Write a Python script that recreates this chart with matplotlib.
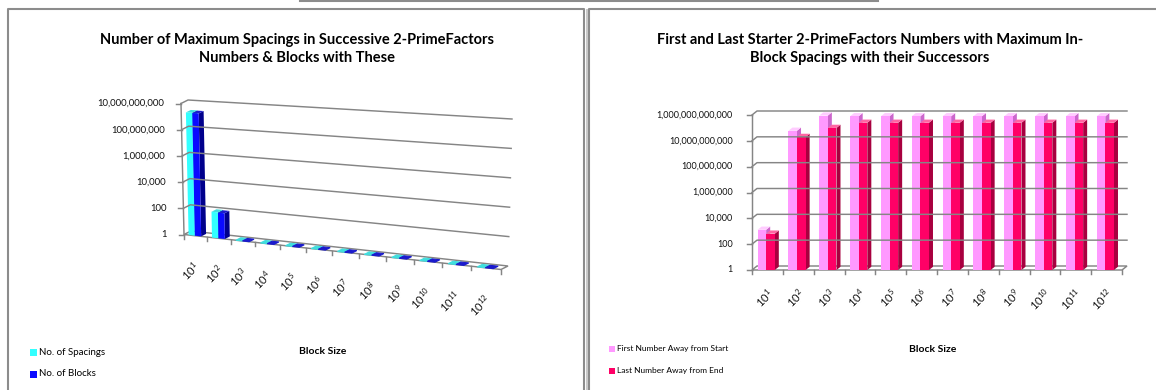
import numpy as np
import matplotlib.pyplot as plt
from matplotlib.patches import Polygon, Rectangle

plt.rcParams['font.family'] = ['Lato', 'DejaVu Sans']
plt.rcParams['mathtext.fontset'] = 'custom'
plt.rcParams['mathtext.rm'] = 'Lato'
plt.rcParams['mathtext.it'] = 'Lato:italic'
plt.rcParams['mathtext.bf'] = 'Lato:bold'

# --- data ---
block_labels = [r'$\mathregular{10^{%d}}$' % k for k in range(1, 13)]

spacing_name = 'No. of Spacings'
block_name = 'No. of Blocks'
no_spacings = [2.2e9, 90, 1, 1, 1, 1, 1, 1, 1, 1, 1, 1]
no_blocks = [2.1e9, 85, 1, 1, 1, 1, 1, 1, 1, 1, 1, 1]
left_ticks = [1, 100, 1e4, 1e6, 1e8, 1e10]

first_name = 'First Number Away from Start'
last_name = 'Last Number Away from End'
first_away = [1300, 6e10, 9e11, 8e11, 8e11, 8e11, 8e11, 8e11, 8e11, 8e11, 8e11, 8e11]
last_away = [650, 2e10, 1e11, 2.5e11, 2.5e11, 2.5e11, 2.5e11, 2.5e11, 2.5e11,
             2.5e11, 2.5e11, 2.5e11]
right_ticks = [1, 100, 1e4, 1e6, 1e8, 1e10, 1e12]

GRID = '#858585'
FRAME = '#8c8c8c'


class Wall:
    """Back wall of a 3-D column chart, mapped to pixels (u = category, d = decades)."""

    def __init__(self, tl, tr, bl, br, n_cat, n_dec, front, bend=0.0):
        self.tl, self.tr = np.array(tl, float), np.array(tr, float)
        self.bl, self.br = np.array(bl, float), np.array(br, float)
        self.n_cat, self.n_dec = n_cat, n_dec
        self.off = np.array(front, float)
        self.bend = bend

    def pt(self, u, d, z=0.0):
        t = u / self.n_cat
        t = t * (1 + self.bend * t) / (1 + self.bend)
        s = d / self.n_dec
        top = self.tl + (self.tr - self.tl) * t
        bot = self.bl + (self.br - self.bl) * t
        return bot + (top - bot) * s + z * self.off


def bar3d(ax, w, u0, u1, value, face, side, top, depth=0.7):
    d = np.log10(value)
    zf, zb = 1.0, 1.0 - depth
    ax.add_patch(Polygon([w.pt(u1, 0, zf), w.pt(u1, 0, zb), w.pt(u1, d, zb), w.pt(u1, d, zf)],
                         closed=True, fc=side, ec='none'))
    ax.add_patch(Polygon([w.pt(u0, d, zf), w.pt(u1, d, zf), w.pt(u1, d, zb), w.pt(u0, d, zb)],
                         closed=True, fc=top, ec=top if d == 0 else 'none', lw=0.8))
    ax.add_patch(Polygon([w.pt(u0, 0, zf), w.pt(u1, 0, zf), w.pt(u1, d, zf), w.pt(u0, d, zf)],
                         closed=True, fc=face, ec='none'))


def frame3d(ax, w, ticks, tick_fs, label_gap):
    lw = 1.05
    # floor slab
    floor = [w.pt(0, 0), w.pt(w.n_cat, 0), w.pt(w.n_cat, 0, 1), w.pt(0, 0, 1)]
    ax.add_patch(Polygon(floor, closed=True, fc='white', ec=GRID, lw=lw))
    for v in ticks:
        d = np.log10(v)
        f0, b0, b1 = w.pt(0, d, 1), w.pt(0, d), w.pt(w.n_cat, d)
        if d > 0:
            ax.plot([f0[0], b0[0], b1[0]], [f0[1], b0[1], b1[1]], color=GRID, lw=lw)
        ax.plot([f0[0] - 5, f0[0]], [f0[1], f0[1]], color=GRID, lw=lw)
        ax.text(f0[0] - label_gap, f0[1], f'{int(v):,}', ha='right', va='center',
                fontsize=tick_fs, color='#111111')
    a0, a1 = w.pt(0, 0, 1), w.pt(0, w.n_dec, 1)
    ax.plot([a0[0], a1[0]], [a0[1], a1[1]], color=GRID, lw=lw)
    for u in range(w.n_cat + 1):
        p = w.pt(u, 0, 1)
        ax.plot([p[0], p[0]], [p[1], p[1] + 4], color=GRID, lw=lw)


def xlabels(ax, w, dx, dy, fs):
    for i, lab in enumerate(block_labels):
        p = w.pt(i + 0.5, 0, 1)
        ax.text(p[0] + dx, p[1] + dy, lab, rotation=45, rotation_mode='anchor',
                ha='right', va='center', fontsize=fs, color='#111111')


fig = plt.figure(figsize=(11.56, 3.9), dpi=100)
ax = fig.add_axes([0, 0, 1, 1])
ax.set_xlim(0, 1156)
ax.set_ylim(390, 0)
ax.axis('off')

# panel borders
ax.plot([300, 878], [1, 1], color=FRAME, lw=1.5)
ax.plot([8, 8, 584, 584], [400, 9, 9, 400], color=FRAME, lw=1.5)
ax.plot([589, 589, 1160], [400, 9, 9], color=FRAME, lw=1.5)
ax.plot([586.7, 586.7], [10, 400], color='#c8c8c8', lw=1.4)

# ---- left chart: spacings and blocks ----
wl = Wall((188, 100), (512, 119), (191, 231), (508, 266), 12, 10, (-7, 3.5), bend=0.15)
frame3d(ax, wl, left_ticks, 6.9, 17)
for i in range(len(no_spacings)):
    bar3d(ax, wl, i + 0.2, i + 0.47, no_spacings[i], '#33ffff', '#00b5b5', '#40dede')
    bar3d(ax, wl, i + 0.47, i + 0.74, no_blocks[i], '#0a0aff', '#00008c', '#1a1acc')
xlabels(ax, wl, 2, 29, 8)

ax.text(297, 49, 'Number of Maximum Spacings in Successive 2-PrimeFactors\nNumbers & Blocks with These',
        ha='center', va='center', fontsize=10.5, fontweight='bold', linespacing=1.3)
ax.text(323, 352, 'Block Size', ha='center', va='center', fontsize=7.5, fontweight='bold')
for y, name, col in [(352.5, spacing_name, '#33ffff'), (374, block_name, '#0a0aff')]:
    ax.add_patch(Rectangle((30, y - 3.5), 7, 7, fc=col, ec='none'))
    ax.text(39, y, name, ha='left', va='center', fontsize=7)

# ---- right chart: first and last numbers ----
wr = Wall((757, 111), (1127, 111), (757, 266), (1127, 266), 12, 12, (-5, 4))
frame3d(ax, wr, right_ticks, 6.5, 19)
for i in range(len(first_away)):
    bar3d(ax, wr, i + 0.18, i + 0.46, first_away[i], '#ff99ff', '#cc66cc', '#ffccff', 0.8)
    bar3d(ax, wr, i + 0.46, i + 0.74, last_away[i], '#ff0066', '#a8003f', '#ff66a3', 0.8)
xlabels(ax, wr, 4, 21, 8)

ax.text(870, 49, 'First and Last Starter 2-PrimeFactors Numbers with Maximum In-\nBlock Spacings with their Successors',
        ha='center', va='center', fontsize=10.5, fontweight='bold', linespacing=1.3)
ax.text(933, 349, 'Block Size', ha='center', va='center', fontsize=7.5, fontweight='bold')
for y, name, col in [(349, first_name, '#ff99ff'), (371, last_name, '#ff0066')]:
    ax.add_patch(Rectangle((609, y - 3), 6, 6, fc=col, ec='none'))
    ax.text(617, y, name, ha='left', va='center', fontsize=6)

fig.savefig('out.png', dpi=100)
